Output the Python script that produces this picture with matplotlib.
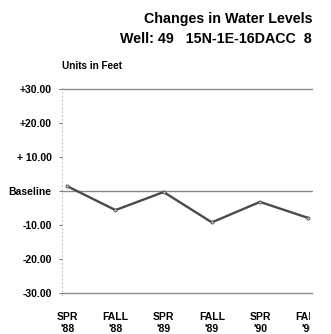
import matplotlib.pyplot as plt
from matplotlib.patches import Rectangle

plt.rcParams['font.family'] = ['Liberation Sans', 'DejaVu Sans']

# water level change per measurement (feet, relative to baseline)
seasons = ["SPR\n'88", "FALL\n'88", "SPR\n'89", "FALL\n'89", "SPR\n'90", "FALL\n'90"]
change = [1.4, -5.6, -0.3, -9.2, -3.2, -7.9]

ytick_vals = [30, 20, 10, 0, -10, -20, -30]
ytick_text = ["+30.00", "+20.00", "+ 10.00", "Baseline", "-10.00", "-20.00", "-30.00"]

fig = plt.figure(figsize=(3.31, 3.34), dpi=100)
ax = fig.add_axes([62 / 331, 1 - 295 / 334, 251 / 331, 208 / 334])

x = list(range(len(seasons)))
ax.axhline(30, color='#8a8a8a', lw=1.0)
ax.axhline(0, color='#8a8a8a', lw=1.0)
ax.axhline(-30, color='#8a8a8a', lw=1.0)
ax.plot(x, change, color='#4a4a4a', lw=1.7, marker='o', ms=2.2,
        mfc='#d0d0d0', mec='#4a4a4a', mew=0.6)

ax.set_xlim(-0.11, 5.1)
ax.set_ylim(-30.5, 30.5)

ax.set_yticks(ytick_vals)
ax.set_yticklabels(ytick_text, fontsize=7.5, fontweight='bold')
ax.set_xticks(x)
ax.set_xticklabels(seasons, fontsize=7.5, fontweight='bold', linespacing=1.3)
ax.tick_params(axis='y', length=2.5, width=0.6, color='#555555', pad=5)
ax.tick_params(axis='x', length=0, pad=12)

for side in ['top', 'right', 'bottom']:
    ax.spines[side].set_visible(False)
ax.spines['left'].set_color('#bbbbbb')
ax.spines['left'].set_linestyle((0, (1, 3)))
ax.spines['left'].set_linewidth(0.7)

ax.text(0.0, 1.1, "Units in Feet", transform=ax.transAxes,
        fontsize=7.2, fontweight='bold', ha='left', va='center')

fig.text(312 / 331, 1 - 19 / 334, "Changes in Water Levels",
         fontsize=10.3, fontweight='bold', ha='right', va='center')
fig.text(312 / 331, 1 - 39 / 334, "Well: 49   15N-1E-16DACC  8",
         fontsize=10.3, fontweight='bold', ha='right', va='center')

# page edge cuts off the last season label
fig.patches.append(Rectangle((310 / 331, 0), 21 / 331, 1 - 300 / 334,
                             transform=fig.transFigure, color='white', zorder=10))

fig.savefig('out.png', dpi=100)
